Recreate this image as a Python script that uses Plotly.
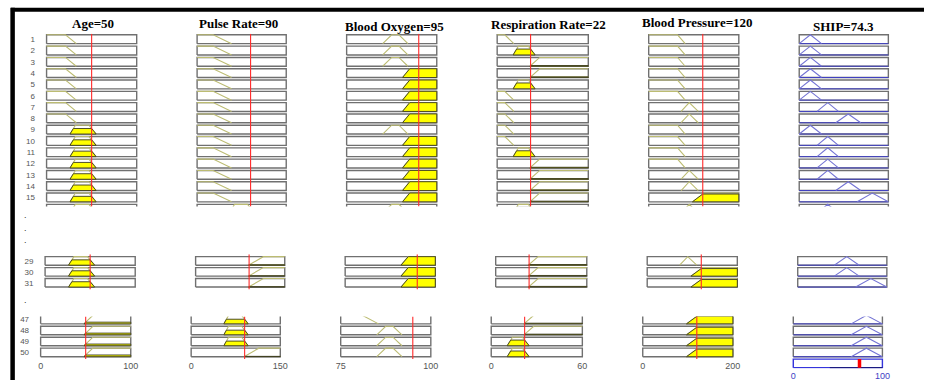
import plotly.graph_objects as go

W, H = 930, 381

# ---- fuzzy variables -------------------------------------------------------
names = ["Age", "Pulse Rate", "Blood Oxygen", "Respiration Rate", "Blood Pressure", "SHIP"]
lows = [0, 0, 75, 0, 0, 0]
highs = [100, 150, 100, 60, 200, 100]
values = [50, 90, 95, 22, 120, 74.3]

# trapezoid parameters [a, b, c, d] for every membership function
age_mfs = {"low": [0, 0, 21, 33], "middle": [26, 32, 47, 55], "high": [48, 58, 100, 100]}
pulse_mfs = {"low": [0, 0, 27, 58], "normal": [55, 63, 85, 96], "high": [89, 114, 150, 150]}
oxygen_mfs = {"low": [75, 75, 81, 85.5], "normal": [85, 87.5, 89.5, 92], "high": [90.5, 92.5, 100, 100]}
resp_mfs = {"low": [0, 0, 5, 11], "normal": [10.5, 14, 20.5, 25], "high": [21.5, 28, 60, 60]}
bp_mfs = {"low": [0, 0, 64, 81], "normal": [72, 90, 90, 110], "high": [97, 123, 200, 200]}
ship_mfs = {"very low": [0, 12.5, 12.5, 25], "low": [20, 32, 32, 44],
            "medium": [41, 55, 55, 69], "high": [65, 82, 82, 100]}
mf_sets = [age_mfs, pulse_mfs, oxygen_mfs, resp_mfs, bp_mfs, ship_mfs]

# ---- rules shown (three groups) ---------------------------------------------
rules_a = list(range(1, 17))
age_a = ["low"] * 8 + ["middle"] * 8
pulse_a = ["low"] * 15 + ["normal"]
oxygen_a = ["normal"] * 3 + ["high"] * 5 + ["normal"] + ["high"] * 6 + ["normal"]
resp_a = ["low", "normal", "high", "high", "normal", "low", "low", "low", "low", "low",
          "normal", "high", "high", "high", "high", "normal"]
bp_a = ["low"] * 6 + ["normal"] * 2 + ["low"] * 4 + ["normal"] * 2 + ["high", "normal"]
ship_a = ["very low"] * 6 + ["low", "medium", "very low", "low", "low", "low", "low",
                             "medium", "high", "low"]

rules_b = [29, 30, 31]
age_b = ["middle"] * 3
pulse_b = ["high"] * 3
oxygen_b = ["high"] * 3
resp_b = ["high"] * 3
bp_b = ["normal", "high", "high"]
ship_b = ["medium", "medium", "high"]

rules_c = [47, 48, 49, 50]
age_c = ["high"] * 4
pulse_c = ["normal"] * 3 + ["high"]
oxygen_c = ["low", "normal", "normal", "normal"]
resp_c = ["high", "high", "normal", "normal"]
bp_c = ["high"] * 4
ship_c = ["high"] * 4

groups = [
    (rules_a, [age_a, pulse_a, oxygen_a, resp_a, bp_a, ship_a]),
    (rules_b, [age_b, pulse_b, oxygen_b, resp_b, bp_b, ship_b]),
    (rules_c, [age_c, pulse_c, oxygen_c, resp_c, bp_c, ship_c]),
]

# ---- geometry (pixels) ------------------------------------------------------
col_left = [38, 190, 341, 493, 646, 798]
col_width = [91, 90, 91, 92, 91, 90]
group_geom = [
    dict(top=34.0, step=11.36, dx=6.0, y_top=33.0, y_bot=206.6),
    dict(top=257.0, step=11.0, dx=4.5, y_top=254.6, y_bot=290.0),
    dict(top=316.0, step=11.0, dx=0.0, y_top=317.2, y_bot=360.0),
]
BOX_H = 0.78
PAD = 2.0

BOX = "#707070"
MF_IN = "#bcbc72"
FILL = "#ffff00"
FILL_EDGE = "#3a3a20"
RED = "#ff2a2a"
MF_OUT = "#7474d4"
OUT_BASE = "#4040c4"
AGG_BOX = "#3434dc"
LABEL = "#555555"
SANS = "Liberation Sans, Arial, sans-serif"


def trap(x, p):
    a, b, c, d = p
    if b <= x <= c:
        return 1.0
    if x < a or x > d:
        return 0.0
    if x < b:
        return (x - a) / (b - a)
    return (d - x) / (d - c)


def outline(p, lo, hi):
    a, b, c, d = p
    if a == b == lo:
        return [(lo, 1), (c, 1), (d, 0)]
    if c == d == hi:
        return [(a, 0), (b, 1), (hi, 1)]
    return [(a, 0), (b, 1), (c, 1), (d, 0)]


def clipped(p, m):
    a, b, c, d = p
    xl = a + m * (b - a)
    xr = d - m * (d - c)
    return [(a, 0), (xl, m), (xr, m), (d, 0), (a, 0)]


fig = go.Figure()
layout = {}

for g, ((rules, terms), geo) in enumerate(zip(groups, group_geom)):
    for c in range(6):
        k = g * 6 + c + 1
        sfx = "" if k == 1 else str(k)
        xa, ya = "x" + sfx, "y" + sfx
        lo, hi = lows[c], highs[c]
        w = col_width[c]
        left = col_left[c] + geo["dx"]
        pad_u = PAD / w * (hi - lo)
        extra_row = (g == 2 and c == 5)
        y_bot = 369.5 if extra_row else geo["y_bot"]
        y_rng = [-(y_bot - geo["top"]) / geo["step"], (geo["top"] - geo["y_top"]) / geo["step"]]

        layout["xaxis" + sfx] = dict(
            domain=[(left - PAD) / W, (left + w + PAD) / W],
            range=[lo - pad_u, hi + pad_u], anchor=ya,
            showgrid=False, zeroline=False, showline=False, ticks="",
            showticklabels=(g == 2), tickvals=[lo, hi],
            ticktext=[f"{lo:g}", f"{hi:g}"],
            tickfont=dict(family=SANS, size=9, color=(OUT_BASE if c == 5 else LABEL)),
            fixedrange=True)
        layout["yaxis" + sfx] = dict(
            domain=[1 - y_bot / H, 1 - geo["y_top"] / H],
            range=y_rng, anchor=xa,
            showgrid=False, zeroline=False, showline=False,
            ticks="outside" if c == 0 else "", ticklen=7, tickcolor="rgba(0,0,0,0)",
            showticklabels=(c == 0),
            tickvals=[-j - BOX_H / 2 for j in range(len(rules))],
            ticktext=[str(r) for r in rules],
            tickfont=dict(family=SANS, size=8, color=LABEL),
            fixedrange=True)

        # rule boxes
        bx, by = [], []
        for j in range(len(rules)):
            y0, y1 = -j - BOX_H, -j
            bx += [lo, hi, hi, lo, lo, None]
            by += [y0, y0, y1, y1, y0, None]
        fig.add_trace(go.Scatter(x=bx, y=by, mode="lines", xaxis=xa, yaxis=ya,
                                 line=dict(color=BOX, width=1.4), hoverinfo="skip"))

        mfs = mf_sets[c]
        if c < 5:
            v = values[c]
            mx, my = [], []
            for j, t in enumerate(terms[c]):
                base = -j - BOX_H
                for px, mu in outline(mfs[t], lo, hi):
                    mx.append(px)
                    my.append(base + mu * BOX_H)
                mx.append(None)
                my.append(None)
            fig.add_trace(go.Scatter(x=mx, y=my, mode="lines", xaxis=xa, yaxis=ya,
                                     line=dict(color=MF_IN, width=1.1), hoverinfo="skip"))
            for j, t in enumerate(terms[c]):
                m = trap(v, mfs[t])
                if m <= 0:
                    continue
                base = -j - BOX_H
                pts = clipped(mfs[t], m)
                fig.add_trace(go.Scatter(
                    x=[p[0] for p in pts], y=[base + p[1] * BOX_H for p in pts],
                    mode="lines", fill="toself", fillcolor=FILL, xaxis=xa, yaxis=ya,
                    line=dict(color=FILL_EDGE, width=0.9), hoverinfo="skip"))
            fig.add_trace(go.Scatter(x=[v, v], y=y_rng, mode="lines", xaxis=xa, yaxis=ya,
                                     line=dict(color=RED, width=1.1), hoverinfo="skip"))
        else:
            ox, oy, tx, ty = [], [], [], []
            for j, t in enumerate(terms[c]):
                base = -j - BOX_H
                ox += [lo, hi, None]
                oy += [base, base, None]
                a, b, _, d = mfs[t]
                tx += [a, b, d, None]
                ty += [base, base + BOX_H, base, None]
            fig.add_trace(go.Scatter(x=ox, y=oy, mode="lines", xaxis=xa, yaxis=ya,
                                     line=dict(color=OUT_BASE, width=1), hoverinfo="skip"))
            fig.add_trace(go.Scatter(x=tx, y=ty, mode="lines", xaxis=xa, yaxis=ya,
                                     line=dict(color=MF_OUT, width=1.1), hoverinfo="skip"))
            if extra_row:
                j = len(rules)
                y0, y1 = -j - BOX_H, -j
                fig.add_trace(go.Scatter(x=[lo, hi, hi, lo, lo], y=[y0, y0, y1, y1, y0],
                                         mode="lines", xaxis=xa, yaxis=ya,
                                         line=dict(color=AGG_BOX, width=1.4), hoverinfo="skip"))
                fig.add_trace(go.Scatter(x=[mfs["medium"][0], hi], y=[y0, y0], mode="lines",
                                         xaxis=xa, yaxis=ya,
                                         line=dict(color="#1a1a80", width=1.4), hoverinfo="skip"))
                fig.add_trace(go.Scatter(x=[values[5], values[5]], y=[y0, y1], mode="lines",
                                         xaxis=xa, yaxis=ya,
                                         line=dict(color="#ff0000", width=3.5), hoverinfo="skip"))

# column titles
title_dx = [1.5, -3.5, 3.0, 5.5, 3.5, 0.0]
title_y = [23, 23, 25.5, 24, 22, 25.5]
annotations = []
for c in range(6):
    cx = col_left[c] + group_geom[0]["dx"] + col_width[c] / 2 + title_dx[c]
    annotations.append(dict(
        x=cx / W, y=1 - title_y[c] / H, xref="paper", yref="paper",
        text=f"<b>{names[c]}={values[c]:g}</b>", showarrow=False,
        xanchor="center", yanchor="middle",
        font=dict(family="Liberation Serif, Times New Roman, serif", size=13, color="black")))

# ellipsis dots between rule groups
for dy in [218, 231, 243, 303]:
    annotations.append(dict(x=23 / W, y=1 - (dy - 2.5) / H, xref="paper", yref="paper",
                            text=".", showarrow=False, xanchor="center", yanchor="middle",
                            font=dict(family=SANS, size=9, color="#333333")))

# window frame edges
shapes = [
    dict(type="line", xref="paper", yref="paper", x0=8 / W, x1=1, y0=1 - 8.7 / H, y1=1 - 8.7 / H,
         line=dict(color="black", width=4)),
    dict(type="line", xref="paper", yref="paper", x0=9.7 / W, x1=9.7 / W, y0=0, y1=1 - 6.7 / H,
         line=dict(color="black", width=4.5)),
]

fig.update_layout(
    width=W, height=H, margin=dict(l=0, r=0, t=0, b=0),
    paper_bgcolor="white", plot_bgcolor="white", showlegend=False,
    annotations=annotations, shapes=shapes, **layout)

fig.write_html("out.html")
